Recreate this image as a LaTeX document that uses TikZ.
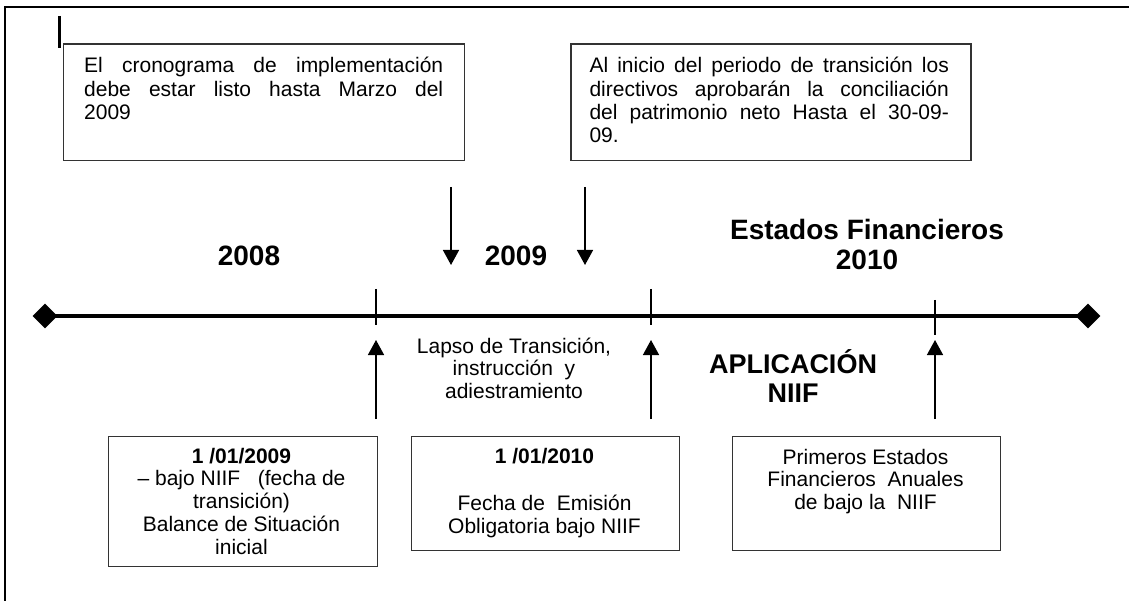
\documentclass[tikz,border=0pt]{standalone}
\usepackage{fontspec}
\setmainfont{Liberation Sans}
\usetikzlibrary{arrows.meta,shapes.geometric}
\tikzset{
  box/.style={draw=black!80, line width=1.3pt, inner sep=0pt, anchor=north west},
  txt/.style={inner sep=0pt, anchor=base, font=\fontsize{21}{23}\selectfont},
  jtxt/.style={inner sep=0pt, anchor=base west, font=\fontsize{21}{23.1}\selectfont},
  bigtxt/.style={inner sep=0pt, anchor=base, font=\bfseries\fontsize{28}{30}\selectfont},
  arr/.style={-{Triangle[width=16pt,length=15pt]}, line width=1.5pt},
  tick/.style={line width=1.3pt},
  endpt/.style={diamond, fill=black, inner sep=0pt, minimum width=25pt, minimum height=25pt},
}
\begin{document}
\begin{tikzpicture}[x=1pt,y=-1pt]
\useasboundingbox (0,0) rectangle (1129,601);
% outer frame (only top and left visible)
\draw[line width=2pt] (1135,6.7) -- (5,6.7) -- (5,610);
% cursor bar
\draw[line width=3pt] (59.5,16) -- (59.5,48);

% top boxes
\node[box, minimum width=401pt, minimum height=116.7pt] (tb1) at (62.7,43.3) {};
\node[jtxt] (tt1) at (84,73) {\parbox[t]{359pt}{\makebox[359pt][s]{El cronograma de implementación}\\\makebox[359pt][s]{debe estar listo hasta Marzo del}\\2009}};
\node[box, minimum width=400pt, minimum height=116.7pt] (tb2) at (570.3,43.3) {};
\node[jtxt] (tt2) at (589.3,73) {\parbox[t]{359.4pt}{\makebox[359.4pt][s]{Al inicio del periodo de transición los}\\\makebox[359.4pt][s]{directivos aprobarán la conciliación}\\\makebox[359.4pt][s]{del patrimonio neto Hasta el 30-09-}\\09.}};

% down arrows
\coordinate (d1s) at (451,187);
\coordinate (d1e) at (451,265);
\coordinate (d2s) at (585,187);
\coordinate (d2e) at (585,265);
\draw[arr] (d1s) -- (d1e);
\draw[arr] (d2s) -- (d2e);

% year labels
\node[bigtxt] (y2008) at (249,266) {2008};
\node[bigtxt] (y2009) at (516,266) {2009};
\node[bigtxt] (ef2010) at (867,240) {\parbox[t]{320pt}{\centering Estados Financieros\\2010}};

% timeline
\node[endpt] (L) at (45,316) {};
\node[endpt] (R) at (1088,316) {};
\draw[line width=4.5pt] (L.center) -- (R.center);

% ticks
\coordinate (k1a) at (376,289);
\coordinate (k1b) at (376,325);
\coordinate (k2a) at (651,289);
\coordinate (k2b) at (651,325);
\coordinate (k3a) at (935,300);
\coordinate (k3b) at (935,335);
\draw[tick] (k1a) -- (k1b);
\draw[tick] (k2a) -- (k2b);
\draw[tick] (k3a) -- (k3b);

% up arrows
\coordinate (u1s) at (376,419);
\coordinate (u1e) at (376,340);
\coordinate (u2s) at (651,419);
\coordinate (u2e) at (651,340);
\coordinate (u3s) at (935,419);
\coordinate (u3e) at (935,340);
\draw[arr] (u1s) -- (u1e);
\draw[arr] (u2s) -- (u2e);
\draw[arr] (u3s) -- (u3e);

% middle labels
\node[txt] (lapso) at (514,353) {\parbox[t]{240pt}{\centering\fontsize{21}{22.5}\selectfont Lapso de Transición,\\instrucción\ \ y\\adiestramiento}};
\node[inner sep=0pt, anchor=base] (aplic) at (793,373) {\parbox[t]{240pt}{\centering\bfseries\fontsize{27}{29}\selectfont APLICACIÓN\\NIIF}};

% bottom boxes
\node[box, minimum width=269pt, minimum height=130pt] (bb1) at (107.5,435.5) {};
\node[txt] (bt1) at (241.5,463) {\parbox[t]{262pt}{\centering\fontsize{21}{22.8}\selectfont\textbf{1 /01/2009}\\– bajo NIIF\ \ \ (fecha de\\transición)\\Balance de Situación\\inicial}};
\node[box, minimum width=268pt, minimum height=113.5pt] (bb2) at (411,436) {};
\node[txt] (bt2) at (544.5,463) {\parbox[t]{262pt}{\centering\fontsize{21}{23.5}\selectfont\textbf{1 /01/2010}\\[23.5pt]Fecha de\ \ Emisión\\Obligatoria bajo NIIF}};
\node[box, minimum width=268pt, minimum height=113.5pt] (bb3) at (732,436) {};
\node[txt] (bt3) at (865.5,464) {\parbox[t]{262pt}{\centering\fontsize{21}{22.6}\selectfont Primeros Estados\\Financieros\ \ Anuales\\de bajo la\ \ NIIF}};
\end{tikzpicture}
\end{document}
